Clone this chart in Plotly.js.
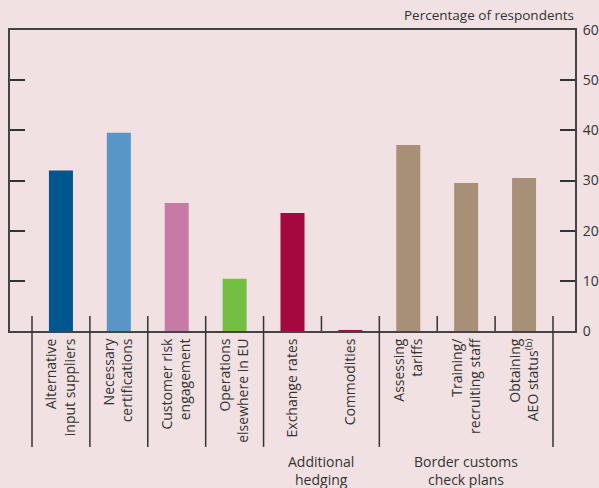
<!DOCTYPE html>
<html>
<head>
<meta charset="utf-8">
<script src="https://cdn.plot.ly/plotly-3.0.1.min.js"></script>
<style>html,body{margin:0;padding:0;background:#F2E1E2;}</style>
</head>
<body>
<div id="chart" style="width:599px;height:488px;"></div>
<script>
const categories = [
  "Alternative<br>input suppliers",
  "Necessary<br>certifications",
  "Customer risk<br>engagement",
  "Operations<br>elsewhere in EU",
  "Exchange rates",
  "Commodities",
  "Assessing<br>tariffs",
  "Training/<br>recruiting staff",
  "Obtaining<br>AEO status<sup>(b)</sup>"
];
const values = [32, 39.5, 25.5, 10.4, 23.5, 0.2, 37.1, 29.5, 30.5];
const colors = ["#005790", "#5896C8", "#C87AA6", "#74BE44", "#A6073F", "#A6073F", "#A89078", "#A89078", "#A89078"];
const yTicks = [0, 10, 20, 30, 40, 50, 60];
const groups = [
  {label: "Additional<br>hedging", from: 4, to: 5},
  {label: "Border customs<br>check plans", from: 6, to: 8}
];
// separators between categories: long ones delimit groups
const longSeparators = [-0.5, 0.5, 1.5, 2.5, 3.5, 5.5, 8.5];
const shortSeparators = [4.5, 6.5, 7.5];

const idx = categories.map((_, i) => i);
const trace = {
  type: "bar",
  x: idx,
  y: values,
  width: 0.415,
  marker: {color: colors},
  hoverinfo: "skip"
};

const shapes = [];
longSeparators.forEach(s => shapes.push({type: "line", xref: "x", yref: "paper", x0: s, x1: s, y0: 0.05, y1: -0.385, line: {color: "#333", width: 1.5}}));
shortSeparators.forEach(s => shapes.push({type: "line", xref: "x", yref: "paper", x0: s, x1: s, y0: 0.05, y1: 0, line: {color: "#333", width: 1.5}}));

const annotations = groups.map(g => ({
  text: g.label, xref: "x", yref: "paper", x: (g.from + g.to) / 2, y: -0.395,
  xanchor: "center", yanchor: "top", showarrow: false,
  font: {size: 14, color: "#333"}
}));
annotations.push({
  text: "Percentage of respondents", xref: "paper", yref: "paper", x: 1.002, y: 1.0,
  xanchor: "right", yanchor: "bottom", yshift: 4, showarrow: false,
  font: {size: 13.5, color: "#333"}
});

const layout = {
  width: 599, height: 488,
  margin: {l: 10, r: 24, t: 30, b: 157},
  paper_bgcolor: "#F2E1E2",
  plot_bgcolor: "#F2E1E2",
  font: {family: "Open Sans, Noto Sans, sans-serif", size: 13, color: "#333"},
  showlegend: false,
  xaxis: {
    range: [-0.88, 8.88],
    tickmode: "array", tickvals: idx, ticktext: categories,
    tickangle: -90, ticks: "", showgrid: false, zeroline: false,
    showline: true, mirror: true, linecolor: "#444", linewidth: 2,
    tickfont: {size: 14, color: "#333"}, fixedrange: true
  },
  yaxis: {
    range: [0, 60], side: "right",
    tickmode: "array", tickvals: yTicks,
    ticks: "inside", ticklen: 15, tickwidth: 2, tickcolor: "#333",
    showline: true, mirror: "ticks", linecolor: "#444", linewidth: 2,
    showgrid: false, zeroline: false, ticklabelstandoff: 3,
    tickfont: {size: 14, color: "#333"}, fixedrange: true
  },
  shapes: shapes,
  annotations: annotations
};

Plotly.newPlot("chart", [trace], layout, {displayModeBar: false, staticPlot: true});
</script>
</body>
</html>
